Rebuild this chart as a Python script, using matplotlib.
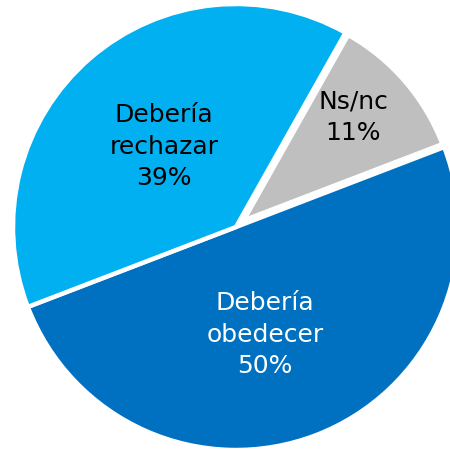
import matplotlib
matplotlib.use("Agg")
import matplotlib.pyplot as plt
import numpy as np

# Survey answers and shares (%)
categories = ["Debería\nobedecer", "Ns/nc", "Debería\nrechazar"]
values = [50, 11, 39]
colors = ["#0070C0", "#BFBFBF", "#00B0F0"]
text_colors = ["white", "black", "black"]
explode = [0.0, 0.045, 0.0]

# Label anchor points in data units (pie radius = 1)
label_xy = [(0.13, -0.478), (0.525, 0.498), (-0.323, 0.365)]

fig = plt.figure(figsize=(4.5, 4.52), dpi=100)
ax = fig.add_axes([13 / 450, 1 / 452, 446 / 450, 446 / 452])

wedges, _ = ax.pie(
    values,
    colors=colors,
    explode=explode,
    startangle=201,
    counterclock=True,
    radius=1.0,
    wedgeprops=dict(edgecolor="white", linewidth=3.2),
)
# keep the detached slice inside the same outer circle
for w, e in zip(wedges, explode):
    if e:
        w.set_radius(1.0 - e)

for name, val, (x, y), tc in zip(categories, values, label_xy, text_colors):
    ax.text(x, y, f"{name}\n{val}%", ha="center", va="center",
            fontsize=18, color=tc, linespacing=1.38,
            family="DejaVu Sans")

ax.set_xlim(-1, 1)
ax.set_ylim(-1, 1)
ax.set_aspect("equal")
ax.axis("off")

fig.savefig("out.png", dpi=100)
